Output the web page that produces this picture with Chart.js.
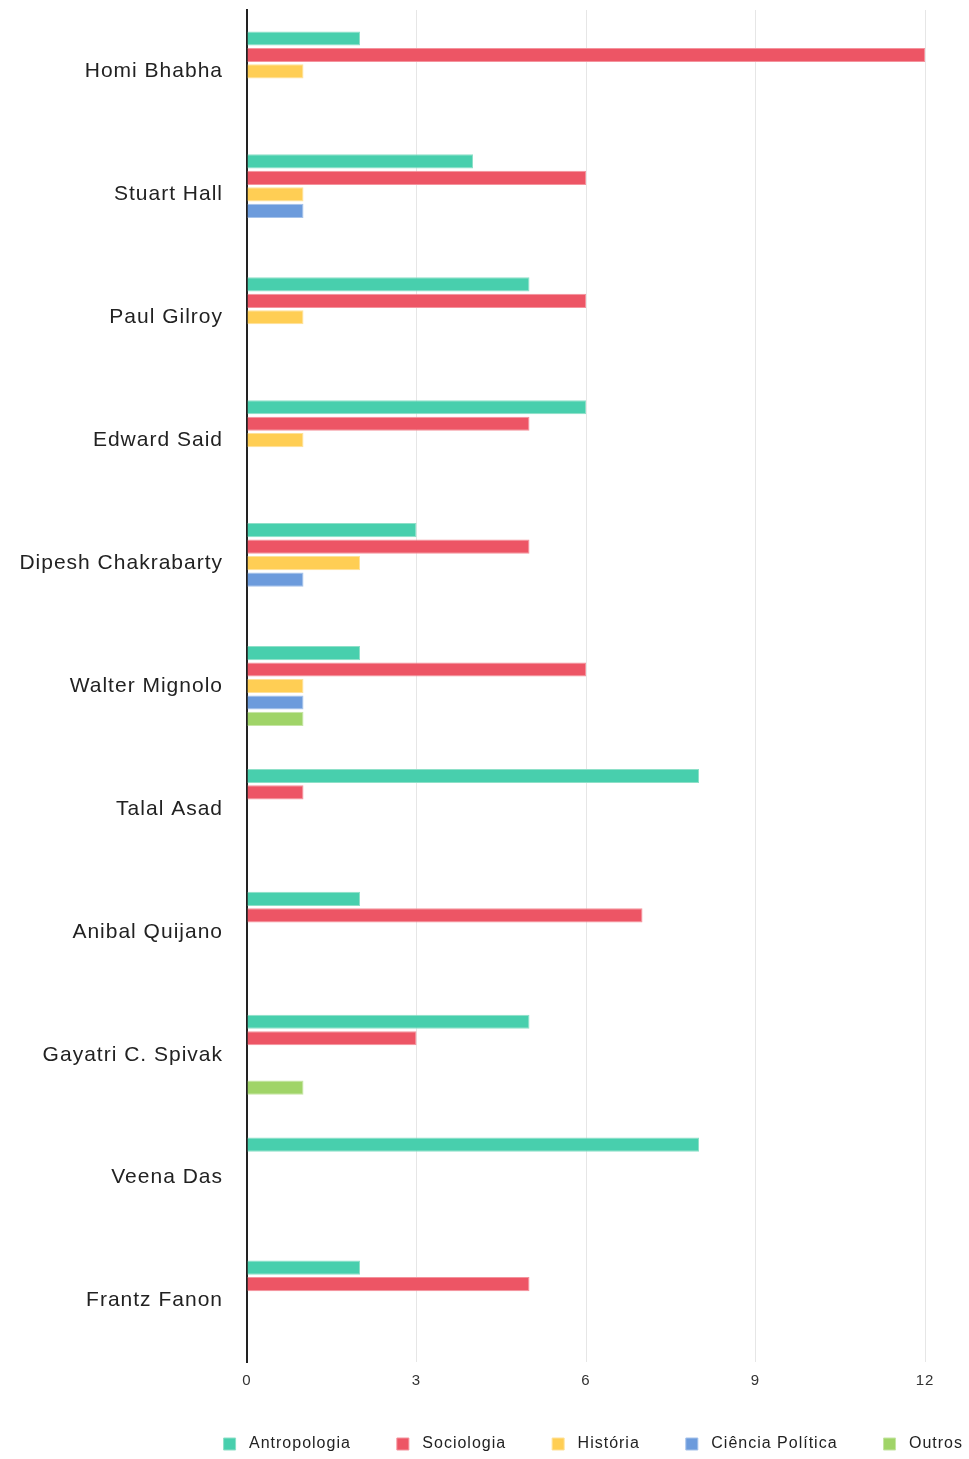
<!DOCTYPE html>
<html>
<head>
<meta charset="utf-8">
<script src="https://cdn.jsdelivr.net/npm/chart.js@4"></script>
<style>
  html, body { margin: 0; padding: 0; background: #fff; }
  #wrap { width: 969px; height: 1459px; }
</style>
</head>
<body>
<div id="wrap"><canvas id="chart"></canvas></div>
<script>
// authors (categories)
const authors = [
  "Homi Bhabha", "Stuart Hall", "Paul Gilroy", "Edward Said",
  "Dipesh Chakrabarty", "Walter Mignolo", "Talal Asad", "Anibal Quijano",
  "Gayatri C. Spivak", "Veena Das", "Frantz Fanon"
];

// series values, null where there is no bar
const antropologia = [2, 4, 5, 6, 3, 2, 8, 2, 5, 8, 2];
const sociologia = [12, 6, 6, 5, 5, 6, 1, 7, 3, null, 5];
const historia = [1, 1, 1, 1, 2, 1, null, null, null, null, null];
const cienciaPolitica = [null, 1, null, null, 1, 1, null, null, null, null, null];
const outros = [null, null, null, null, null, 1, null, null, 1, null, null];

const xTicks = [0, 3, 6, 9, 12];

function series(label, data, color, edge) {
  return {
    label: label,
    data: data,
    backgroundColor: color,
    borderColor: edge,
    borderWidth: 1,
    categoryPercentage: 0.67,
    barPercentage: 0.86
  };
}

// the reference text is set a little wide, so space the letters out a bit
const spacing = {
  id: "spacing",
  beforeLayout: (chart) => { chart.ctx.letterSpacing = "1px"; },
  beforeDraw: (chart) => { chart.ctx.letterSpacing = "1px"; }
};

const ctx = document.getElementById("chart");

new Chart(ctx, {
  type: "bar",
  data: {
    labels: authors,
    datasets: [
      series("Antropologia", antropologia, "#48cfad", "#8ee0c8"),
      series("Sociologia", sociologia, "#ed5565", "#f4939d"),
      series("História", historia, "#ffce54", "#ffe199"),
      series("Ciência Política", cienciaPolitica, "#6c9bdc", "#a5c2ea"),
      series("Outros", outros, "#a0d468", "#c6e5a4")
    ]
  },
  plugins: [spacing],
  options: {
    indexAxis: "y",
    responsive: true,
    maintainAspectRatio: false,
    animation: false,
    layout: { padding: { top: 10, right: -40, left: 0, bottom: -3 } },
    plugins: {
      tooltip: { enabled: false },
      legend: {
        position: "bottom",
        align: "end",
        labels: {
          color: "#222",
          font: { family: "Liberation Sans", size: 16 },
          boxWidth: 12,
          boxHeight: 12,
          padding: 46,
          // a little more room between the box and its text
          generateLabels: (chart) =>
            Chart.defaults.plugins.legend.labels
              .generateLabels(chart)
              .map((item) => ({ ...item, text: " " + item.text }))
        }
      }
    },
    scales: {
      x: {
        min: 0,
        max: 12,
        afterBuildTicks: (scale) => {
          scale.ticks = xTicks.map((v) => ({ value: v }));
        },
        grid: { color: "#e6e6e6", drawTicks: false, lineWidth: 1 },
        border: { display: false },
        ticks: {
          color: "#333",
          font: { family: "Liberation Sans", size: 15 },
          padding: 10
        },
        afterFit: (scale) => {
          scale.height = 28;
          scale.paddingLeft = 0;
          scale.paddingRight = 44;
        }
      },
      y: {
        grid: { display: false, drawTicks: false },
        border: { display: true, color: "#222", width: 2 },
        ticks: {
          color: "#222",
          font: { family: "Liberation Sans", size: 21 },
          padding: 24
        },
        afterFit: (scale) => {
          scale.width = 247;
          scale.paddingTop = 0;
          scale.paddingBottom = 0;
        }
      }
    }
  }
});
</script>
</body>
</html>
